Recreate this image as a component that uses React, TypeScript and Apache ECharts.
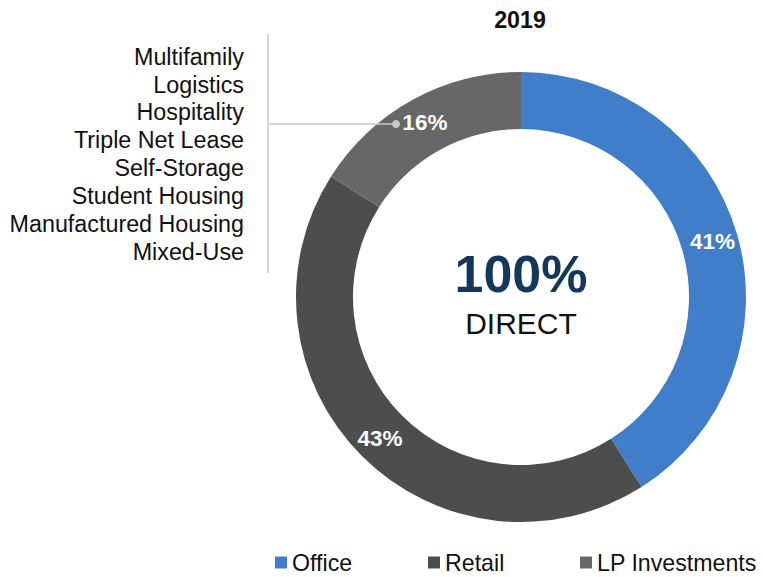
import React, { useEffect, useRef } from "react";
import * as echarts from "echarts";

const categories = ["Office", "Retail", "LP Investments"];
const values = [41, 43, 16];
const colors = ["#407EC9", "#4D4D4D", "#676767"];
const lpTypes = [
  "Multifamily",
  "Logistics",
  "Hospitality",
  "Triple Net Lease",
  "Self-Storage",
  "Student Housing",
  "Manufactured Housing",
  "Mixed-Use",
];
const titleText = "2019";
const centerValue = "100%";
const centerLabel = "DIRECT";
const legendLeft = [275, 428, 580];

const FONT = "'Liberation Sans', Arial, sans-serif";

export default function App() {
  const ref = useRef<HTMLDivElement>(null);
  useEffect(() => {
    document.body.style.margin = "0";
    if (!ref.current) return;
    const chart = echarts.init(ref.current, undefined, { renderer: "svg" });
    const cx = 521;
    const cy = 297;
    const listTexts = lpTypes.map((t, i) => ({
      type: "text",
      x: 244,
      y: 56.7 + i * 27.86,
      style: {
        text: t,
        fontFamily: FONT,
        fontSize: 23.3,
        fill: "#111111",
        textAlign: "right",
        textVerticalAlign: "middle",
      },
    }));
    chart.setOption({
      animation: false,
      backgroundColor: "#ffffff",
      legend: categories.map((c, i) => ({
        data: [c],
        left: legendLeft[i],
        top: 551,
        padding: 0,
        icon: "rect",
        itemWidth: 12,
        itemHeight: 12,
        selectedMode: false,
        textStyle: {
          fontFamily: FONT,
          fontSize: 23.2,
          lineHeight: 23,
          color: "#111111",
          padding: [0, 0, 0, 0],
        },
      })),
      series: [
        {
          type: "pie",
          center: [cx, cy],
          radius: [168, 225],
          startAngle: 90,
          clockwise: true,
          silent: true,
          data: categories.map((c, i) => ({
            name: c,
            value: values[i],
            itemStyle: { color: colors[i] },
          })),
          label: {
            show: true,
            position: "inside",
            formatter: "{c}%",
            color: "#ffffff",
            fontFamily: FONT,
            fontSize: 22.5,
            fontWeight: "bold",
          },
          labelLine: { show: false },
        },
      ],
      graphic: [
        {
          type: "text",
          x: 520,
          y: 20,
          style: {
            text: titleText,
            fontFamily: FONT,
            fontSize: 23.2,
            fontWeight: "bold",
            fill: "#111111",
            textAlign: "center",
            textVerticalAlign: "middle",
          },
        },
        {
          type: "text",
          x: cx,
          y: 274,
          style: {
            text: centerValue,
            fontFamily: FONT,
            fontSize: 52,
            fontWeight: "bold",
            fill: "#14375C",
            textAlign: "center",
            textVerticalAlign: "middle",
          },
        },
        {
          type: "text",
          x: cx,
          y: 323,
          style: {
            text: centerLabel,
            fontFamily: FONT,
            fontSize: 30,
            fill: "#111111",
            textAlign: "center",
            textVerticalAlign: "middle",
          },
        },
        ...listTexts,
        {
          type: "line",
          shape: { x1: 268, y1: 34, x2: 268, y2: 273 },
          style: { stroke: "#C8C8C8", lineWidth: 1.5 },
        },
        {
          type: "line",
          shape: { x1: 268, y1: 124, x2: 394, y2: 124 },
          style: { stroke: "#C8C8C8", lineWidth: 1.5 },
          z: 10,
        },
        {
          type: "circle",
          shape: { cx: 396, cy: 124, r: 4 },
          style: { fill: "#C8C8C8" },
          z: 10,
        },
      ],
    });
    return () => chart.dispose();
  }, []);
  return <div ref={ref} style={{ width: 763, height: 577 }} />;
}
